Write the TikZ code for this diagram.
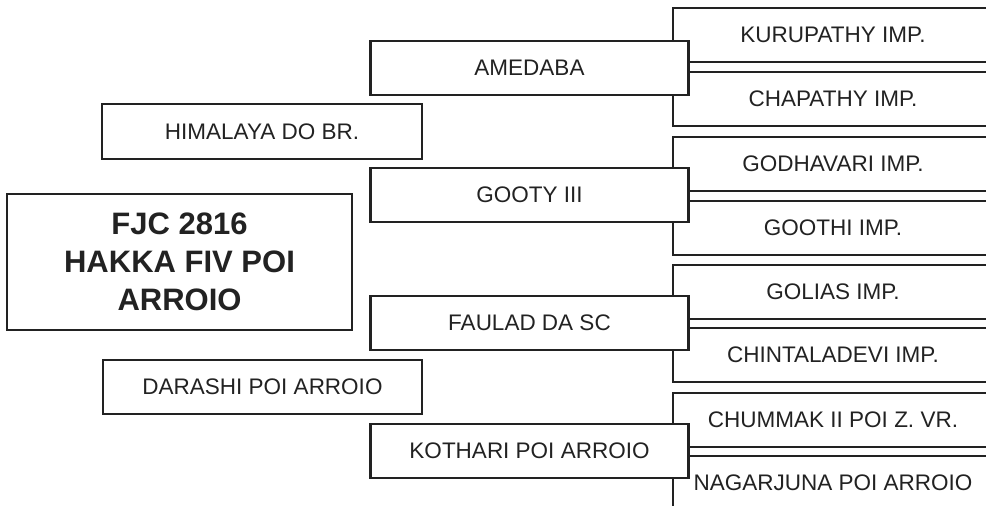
\documentclass[tikz,border=0pt]{standalone}
\usepackage{fontspec}
\setmainfont{Liberation Sans}
\definecolor{ink}{HTML}{222222}
\begin{document}
\begin{tikzpicture}[x=1pt,y=-1pt,
  box/.style={draw=ink, line width=2.2pt, fill=white, inner sep=0pt, outer sep=0pt,
    text=ink, font=\fontsize{22.5}{27}\selectfont, minimum height=54pt},
  rbox/.style={box, minimum width=320pt},
  mbox/.style={box, minimum width=318pt},
  lbox/.style={box, minimum width=320pt},
  mainbox/.style={box, minimum width=345pt, minimum height=136pt, align=center,
    font=\fontsize{31}{38}\selectfont\bfseries}
]
\useasboundingbox (0,0) rectangle (986,506);
\clip (0,0) rectangle (986,506);
% right column (great-grandparents)
\node[rbox] (r1) at (833,35)  {KURUPATHY IMP.};
\node[rbox] (r2) at (833,99)  {CHAPATHY IMP.};
\node[rbox] (r3) at (833,164) {GODHAVARI IMP.};
\node[rbox] (r4) at (833,228) {GOOTHI IMP.};
\node[rbox] (r5) at (833,292) {GOLIAS IMP.};
\node[rbox] (r6) at (833,355) {CHINTALADEVI IMP.};
\node[rbox] (r7) at (833,420) {CHUMMAK II POI Z. VR.};
\node[rbox] (r8) at (833,483) {NAGARJUNA POI ARROIO};
% middle column (grandparents)
\node[mbox] (m1) at (529.5,68)  {AMEDABA};
\node[mbox] (m2) at (529.5,195) {GOOTY III};
\node[mbox] (m3) at (529.5,323) {FAULAD DA SC};
\node[mbox] (m4) at (529.5,451) {KOTHARI POI ARROIO};
% parents
\node[lbox, minimum height=55pt] (p1) at (262,131.5) {HIMALAYA DO BR.};
\node[lbox, minimum width=319pt] (p2) at (262.5,387) {DARASHI POI ARROIO};
% subject
\node[mainbox] (s) at (179.5,262) {FJC 2816\\HAKKA FIV POI\\ARROIO};
\end{tikzpicture}
\end{document}
